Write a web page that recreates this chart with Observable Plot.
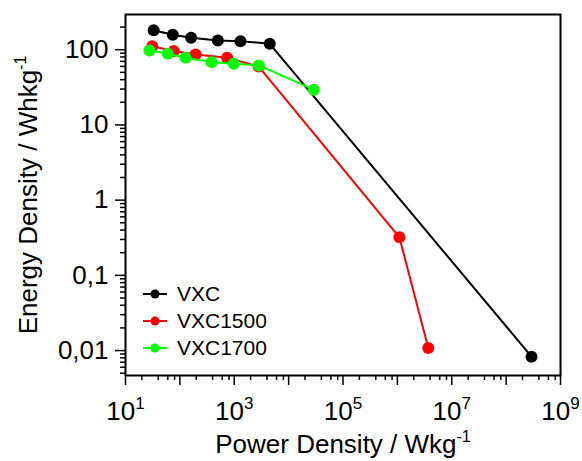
<!DOCTYPE html>
<html><head><meta charset="utf-8">
<script src="https://cdn.jsdelivr.net/npm/d3@7"></script>
<script src="https://cdn.jsdelivr.net/npm/@observablehq/plot@0.6"></script>
<style>
body{margin:0;background:#fff;}
#wrap{position:relative;width:582px;height:461px;font-family:"Liberation Sans",Arial,sans-serif;}
#legend{position:absolute;left:143px;top:280px;font-size:21px;color:#000;}
.item{display:flex;align-items:center;height:27px;}
.item svg{margin-right:10px;}
</style></head><body><div id="wrap"></div>
<script>
// ---- data ----
const series = ["VXC", "VXC1500", "VXC1700"];
const colors = ["#000000", "#ff0000", "#00ff00"];
const vxcPower = [33, 74, 161, 500, 1300, 4500, 2.93e8];
const vxcEnergy = [181, 158, 144, 133, 130, 120, 0.0083];
const vxc1500Power = [31, 77, 194, 740, 2800, 1.09e6, 3.7e6];
const vxc1500Energy = [111, 96, 86.5, 78, 60, 0.32, 0.0108];
const vxc1700Power = [27.6, 60, 127, 382, 980, 2830, 29000];
const vxc1700Energy = [98, 88.5, 78, 68.4, 65.2, 61.8, 29.4];
const xTicks = [10, 1e2, 1e3, 1e4, 1e5, 1e6, 1e7, 1e8, 1e9];
const xTickLabels = ["10|1", "", "10|3", "", "10|5", "", "10|7", "", "10|9"];
const yTicks = [0.01, 0.1, 1, 10, 100];
const yTickLabels = ["0,01", "0,1", "1", "10", "100"];
const xTitle = "Power Density / Wkg";
const yTitle = "Energy Density / Whkg";
const titleSup = "-1";

const powers = [vxcPower, vxc1500Power, vxc1700Power];
const energies = [vxcEnergy, vxc1500Energy, vxc1700Energy];
const rows = [];
series.forEach((s, i) => powers[i].forEach((p, j) => rows.push({series: s, power: p, energy: energies[i][j]})));

const xMinor = [];
for (let k = 1; k < 9; k++) for (const m of [2, 4, 6, 8]) xMinor.push(m * 10 ** k);
const yDomain = [0.00466, 294];
const yMinor = [];
for (let k = -3; k <= 2; k++) for (let m = 2; m <= 9; m++) {
  const v = m * 10 ** k;
  if (v > yDomain[0] && v < yDomain[1]) yMinor.push(v);
}

const font = "'Liberation Sans', Arial, sans-serif";
const plot = Plot.plot({
  width: 582, height: 461,
  marginLeft: 125, marginRight: 22, marginTop: 14, marginBottom: 86,
  style: {fontFamily: font, fontSize: "26px", color: "#000", background: "#fff", overflow: "visible"},
  x: {type: "log", domain: [10, 1e9]},
  y: {type: "log", domain: yDomain},
  color: {domain: series, range: colors},
  marks: [
    Plot.axisX({ticks: xTicks, tickSize: 10, tickPadding: 16, strokeWidth: 1.5, fontSize: 26,
      tickFormat: d => xTickLabels[xTicks.indexOf(d)], label: null}),
    Plot.axisX({ticks: xMinor, tickSize: 5, strokeWidth: 1.5, tickFormat: () => "", label: null}),
    Plot.axisY({ticks: yTicks, tickSize: 10, tickPadding: 7, strokeWidth: 1.5, fontSize: 26,
      tickFormat: d => yTickLabels[yTicks.indexOf(d)], label: null}),
    Plot.axisY({ticks: yMinor, tickSize: 5, strokeWidth: 1.5, tickFormat: () => "", label: null}),
    Plot.frame({stroke: "#000", strokeWidth: 2}),
    ...series.flatMap(s => [
      Plot.line(rows.filter(r => r.series === s), {x: "power", y: "energy", stroke: "series", strokeWidth: 2}),
      Plot.dot(rows.filter(r => r.series === s), {x: "power", y: "energy", fill: "series", r: 6})
    ]),
    Plot.text([xTitle], {frameAnchor: "bottom", dy: 77, lineAnchor: "bottom", textAnchor: "middle", fontSize: 26, fill: "#000"}),
    Plot.text([yTitle], {frameAnchor: "left", dx: -97, rotate: -90, lineAnchor: "middle", textAnchor: "middle", fontSize: 26, fill: "#000"})
  ]
});

// superscripts
d3.select(plot).selectAll("text").each(function () {
  const t = this.textContent;
  if (t.includes("|")) {
    const [base, exp] = t.split("|");
    const sel = d3.select(this);
    sel.text(base);
    sel.append("tspan").attr("dy", -11).attr("font-size", 17).text(exp);
  } else if (t === xTitle || t === yTitle) {
    d3.select(this).append("tspan").attr("dy", -11).attr("font-size", 16).text(titleSup);
  }
});

const wrap = document.getElementById("wrap");
wrap.appendChild(plot);

const legend = document.createElement("div");
legend.id = "legend";
series.forEach((s, i) => {
  const item = document.createElement("div");
  item.className = "item";
  item.innerHTML = `<svg width="24" height="12"><line x1="0" x2="24" y1="6" y2="6" stroke="${colors[i]}" stroke-width="2"/><circle cx="12" cy="6" r="4.5" fill="${colors[i]}"/></svg><span>${s}</span>`;
  legend.appendChild(item);
});
wrap.appendChild(legend);
</script></body></html>
